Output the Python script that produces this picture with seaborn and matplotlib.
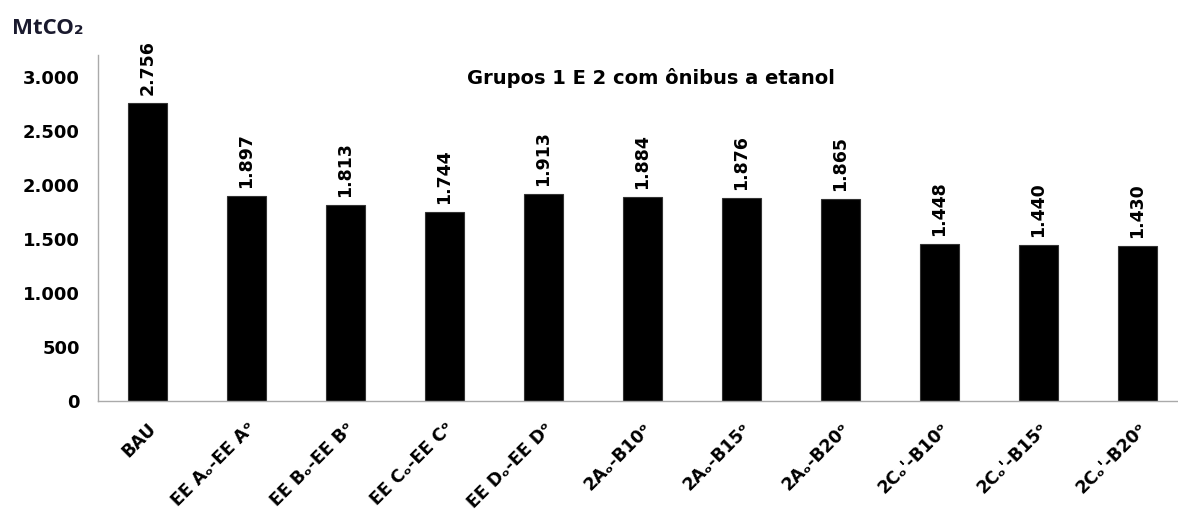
import numpy as np
import pandas as pd
import matplotlib
matplotlib.use("Agg")
import matplotlib.pyplot as plt
from matplotlib.ticker import FuncFormatter
import seaborn as sns

# data
categories = ["BAU", "EE Aₒ-EE Aᵒ", "EE Bₒ-EE Bᵒ", "EE Cₒ-EE Cᵒ", "EE Dₒ-EE Dᵒ",
              "2Aₒ-B10ᵒ", "2Aₒ-B15ᵒ", "2Aₒ-B20ᵒ",
              "2Cₒ'-B10ᵒ", "2Cₒ'-B15ᵒ", "2Cₒ'-B20ᵒ"]
emissions = [2756, 1897, 1813, 1744, 1913, 1884, 1876, 1865, 1448, 1440, 1430]
y_ticks = [0, 500, 1000, 1500, 2000, 2500, 3000]

df = pd.DataFrame({"cenario": categories, "mtco2": emissions})

sns.set_style("white")
plt.rcParams['font.family'] = ['DejaVu Sans', 'Noto Sans']
plt.rcParams['text.color'] = 'black'
plt.rcParams['xtick.color'] = 'black'
plt.rcParams['ytick.color'] = 'black'


def fmt_pt(v, pos=None):
    return f"{v:,.0f}".replace(",", ".")


fig = plt.figure(figsize=(11.78, 5.21), dpi=100)
ax = fig.add_axes([0.0832, 0.2303, 0.9244, 0.664])

sns.barplot(data=df, x="cenario", y="mtco2", color="black", width=0.4,
            edgecolor="#333333", linewidth=0.8, saturation=1, ax=ax)

ax.set_xlim(-0.5, len(categories) - 0.5)
ax.set_ylim(0, 3200)
ax.set_yticks(y_ticks)
ax.yaxis.set_major_formatter(FuncFormatter(fmt_pt))

# value labels above bars
for i, v in enumerate(emissions):
    ax.annotate(fmt_pt(v), (i, v), xytext=(0, 6), textcoords="offset points",
                rotation=90, ha="center", va="bottom", fontsize=12.5, fontweight="bold")

ax.set_xlabel("")
ax.set_ylabel("")
ax.set_xticks(range(len(categories)))
ax.set_xticklabels(categories, rotation=45, ha="right", va="top",
                   rotation_mode="anchor", fontsize=12.5, fontweight="bold")
ax.set_xticks(np.arange(-0.5, len(categories)), minor=True)
ax.tick_params(axis="x", which="major", length=0, pad=13)
ax.tick_params(axis="x", which="minor", length=7, color="#aaaaaa", width=1, direction="out")
ax.tick_params(axis="y", length=5, color="#aaaaaa", width=1, direction="out", pad=8)
plt.setp(ax.get_yticklabels(), fontsize=13, fontweight="bold")

sns.despine(ax=ax, top=True, right=True)
for s in ["left", "bottom"]:
    ax.spines[s].set_color("#aaaaaa")
    ax.spines[s].set_linewidth(1)

ax.text(0.508, 0.933, "Grupos 1 E 2 com ônibus a etanol", transform=ax.transAxes,
        ha="center", va="center", fontsize=14, fontweight="bold")
fig.text(0.01, 0.935, "MtCO₂", ha="left", va="baseline", fontsize=16,
         fontweight="bold", color="#1a1a2e", family=["Open Sans", "DejaVu Sans"])

fig.savefig("out.png", dpi=100)
